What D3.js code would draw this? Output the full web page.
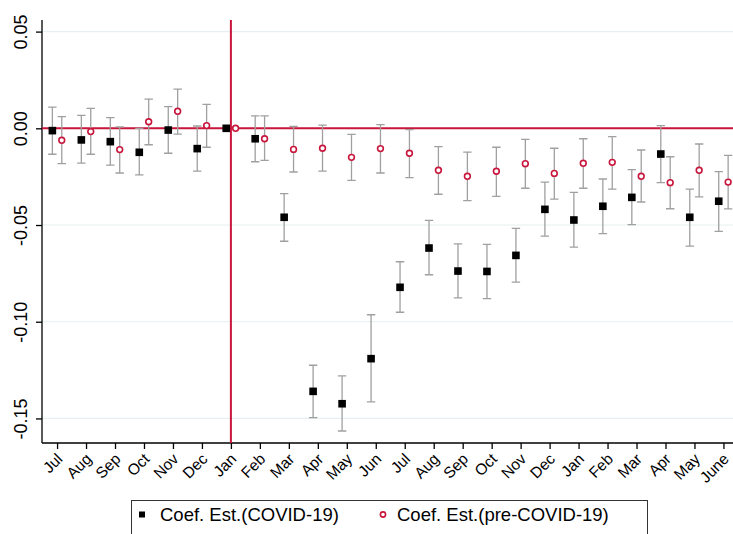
<!DOCTYPE html>
<html><head><meta charset="utf-8">
<script src="https://cdn.jsdelivr.net/npm/d3@7"></script>
<style>body{margin:0;background:#fff}svg{display:block}</style>
</head><body><svg id="c" width="733" height="534"></svg>
<script>
const months = ["Jul","Aug","Sep","Oct","Nov","Dec","Jan","Feb","Mar","Apr","May","Jun","Jul","Aug","Sep","Oct","Nov","Dec","Jan","Feb","Mar","Apr","May","June"];
// COVID-19 coefficient estimates with 95% CI
const covidEst = [-0.0012,-0.0060,-0.0069,-0.0124,-0.0009,-0.0105,0,-0.0054,-0.0460,-0.1360,-0.1424,-0.1191,-0.0822,-0.0619,-0.0738,-0.0740,-0.0657,-0.0419,-0.0474,-0.0403,-0.0357,-0.0133,-0.0460,-0.0377];
const covidLo  = [-0.0134,-0.0180,-0.0190,-0.0241,-0.0129,-0.0221,0,-0.0173,-0.0584,-0.1496,-0.1565,-0.1414,-0.0951,-0.0757,-0.0877,-0.0881,-0.0795,-0.0557,-0.0614,-0.0545,-0.0498,-0.0281,-0.0609,-0.0533];
const covidHi  = [0.0110,0.0067,0.0055,0.0000,0.0112,0.0012,0,0.0064,-0.0338,-0.1225,-0.1280,-0.0964,-0.0690,-0.0476,-0.0597,-0.0600,-0.0517,-0.0278,-0.0331,-0.0262,-0.0214,0.0014,-0.0314,-0.0224];
// pre-COVID-19 coefficient estimates with 95% CI
const preEst = [-0.0062,-0.0017,-0.0110,0.0034,0.0088,0.0014,0,-0.0054,-0.0109,-0.0103,-0.0150,-0.0105,-0.0129,-0.0217,-0.0248,-0.0222,-0.0183,-0.0233,-0.0181,-0.0176,-0.0248,-0.0281,-0.0217,-0.0278];
const preLo  = [-0.0183,-0.0134,-0.0231,-0.0085,-0.0030,-0.0098,0,-0.0166,-0.0226,-0.0221,-0.0269,-0.0231,-0.0255,-0.0341,-0.0374,-0.0352,-0.0310,-0.0366,-0.0310,-0.0314,-0.0381,-0.0416,-0.0354,-0.0417];
const preHi  = [0.0060,0.0103,0.0007,0.0151,0.0203,0.0124,0,0.0064,0.0010,0.0016,-0.0031,0.0019,-0.0007,-0.0095,-0.0123,-0.0098,-0.0057,-0.0103,-0.0054,-0.0043,-0.0112,-0.0147,-0.0081,-0.0140];
const yTicks = [0.05,0.00,-0.05,-0.10,-0.15];
const yTickLabels = ["0.05","0.00","-0.05","-0.10","-0.15"];
const legendLabels = ["Coef. Est.(COVID-19)","Coef. Est.(pre-COVID-19)"];

(function(){
const RED = "#c8163c", GRAY = "#a0a0a0";
const svg = d3.select("#c");
const pL = 42, pR = 733, pT = 20, pB = 443;
const x = d3.scaleLinear().domain([-0.52, 23.33]).range([pL, pR]);
const y = d3.scaleLinear().domain([-0.1627, 0.056]).range([pB, pT]);
const off = 4.7;

// grid
svg.append("g").selectAll("line").data(yTicks).join("line")
  .attr("x1", pL).attr("x2", pR).attr("y1", d=>y(d)).attr("y2", d=>y(d))
  .attr("stroke", "#e6eff2").attr("stroke-width", 1.2);

// axes
const yAxis = d3.axisLeft(y).tickValues(yTicks).tickSize(6).tickFormat((d,i)=>yTickLabels[i]);
const gy = svg.append("g").attr("transform", `translate(${pL},0)`).call(yAxis);
gy.select(".domain").attr("d", `M0,${pT}V${pB}`).attr("stroke","#000").attr("stroke-width",1.3);
gy.selectAll(".tick line").attr("stroke","#000").attr("stroke-width",1.3);
gy.selectAll(".tick text").attr("font-family","Liberation Sans, Arial, sans-serif").attr("font-size",18).attr("fill","#000")
  .attr("text-anchor","middle").attr("x",null).attr("dy",null)
  .attr("transform","translate(-15,0) rotate(-90)");

const xAxis = d3.axisBottom(x).tickValues(d3.range(months.length)).tickSize(6).tickFormat(i=>months[i]);
const gx = svg.append("g").attr("transform", `translate(0,${pB})`).call(xAxis);
gx.select(".domain").attr("d", `M${pL},0H${pR}`).attr("stroke","#000").attr("stroke-width",1.3);
gx.selectAll(".tick line").attr("stroke","#000").attr("stroke-width",1.3);
gx.selectAll(".tick text").attr("font-family","Liberation Sans, Arial, sans-serif").attr("font-size",15.5).attr("fill","#000")
  .attr("text-anchor","end").attr("y",null).attr("dy",null)
  .attr("transform","translate(6,17) rotate(-45)");

// reference lines
svg.append("line").attr("x1",pL).attr("x2",pR).attr("y1",y(0)).attr("y2",y(0)).attr("stroke",RED).attr("stroke-width",2);
svg.append("line").attr("x1",x(6)).attr("x2",x(6)).attr("y1",pT).attr("y2",pB).attr("stroke",RED).attr("stroke-width",2);

function errbars(est, lo, hi, dx){
  const g = svg.append("g").attr("stroke",GRAY).attr("stroke-width",1.3).attr("fill","none");
  const idx = d3.range(est.length).filter(i => hi[i] !== lo[i]);
  g.selectAll("path").data(idx).join("path")
    .attr("d", i => { const cx = x(i)+dx, h=4.2;
      return `M${cx},${y(hi[i])}V${y(lo[i])}M${cx-h},${y(hi[i])}H${cx+h}M${cx-h},${y(lo[i])}H${cx+h}`; });
}
errbars(covidEst, covidLo, covidHi, -off);
errbars(preEst, preLo, preHi, off);

svg.append("g").selectAll("rect").data(covidEst).join("rect")
  .attr("x",(d,i)=>x(i)-off-3.8).attr("y",d=>y(d)-3.8).attr("width",7.6).attr("height",7.6).attr("fill","#000");
svg.append("g").selectAll("circle").data(preEst).join("circle")
  .attr("cx",(d,i)=>x(i)+off).attr("cy",d=>y(d)).attr("r",2.9).attr("fill","#fff").attr("stroke",RED).attr("stroke-width",1.6);

// legend
const lg = svg.append("g");
lg.append("rect").attr("x",131.5).attr("y",500.5).attr("width",516).attr("height",50).attr("fill","#fff").attr("stroke","#333").attr("stroke-width",1);
lg.append("rect").attr("x",139).attr("y",511.5).attr("width",6).attr("height",6).attr("fill","#000");
lg.append("circle").attr("cx",383).attr("cy",514.5).attr("r",2.6).attr("fill","#fff").attr("stroke",RED).attr("stroke-width",1.6);
lg.selectAll("text").data(legendLabels).join("text")
  .attr("x",(d,i)=> i===0 ? 160 : 397).attr("y",521)
  .attr("font-family","Liberation Sans, Arial, sans-serif").attr("font-size",18.5).attr("fill","#000").text(d=>d);
})();
</script></body></html>
